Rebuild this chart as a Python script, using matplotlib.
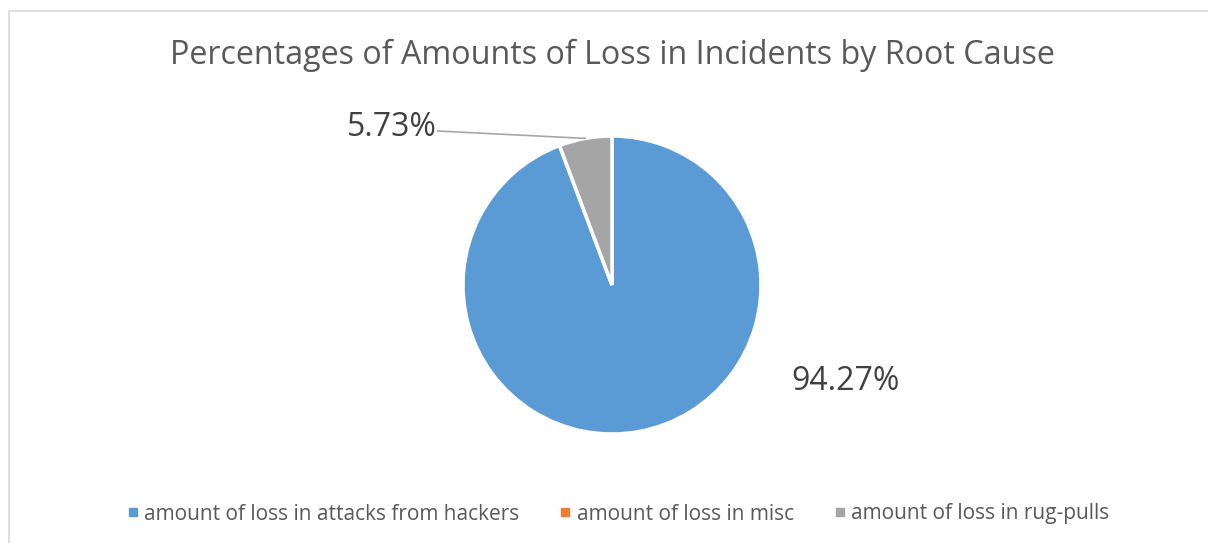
import matplotlib
matplotlib.use("Agg")
import matplotlib.pyplot as plt
from matplotlib.patches import Rectangle
from matplotlib.lines import Line2D
import numpy as np

categories = ["amount of loss in attacks from hackers", "amount of loss in misc", "amount of loss in rug-pulls"]
values = [94.27, 0.0, 5.73]
labels = ["94.27%", "", "5.73%"]
colors = ["#5B9BD5", "#ED7D31", "#A5A5A5"]
title = "Percentages of Amounts of Loss in Incidents by Root Cause"

plt.rcParams['font.family'] = ['Open Sans', 'DejaVu Sans']

W, H = 1208, 543
fig = plt.figure(figsize=(W / 100, H / 100), dpi=100)
ax = fig.add_axes([0, 0, 1, 1])

cx, cy, r = 612, H - 285, 149
wedges, _ = ax.pie(values, colors=colors, startangle=90, counterclock=False,
                   center=(cx, cy), radius=r, frame=True,
                   wedgeprops=dict(edgecolor='white', linewidth=2.5))
ax.set_xlim(0, W)
ax.set_ylim(0, H)
ax.set_aspect('equal')
ax.axis('off')

# border
fig.add_artist(Rectangle((8.5, -5), W + 10, H - 10.5 + 5, transform=None,
                         fill=False, edgecolor='#D9D9D9', linewidth=1.2))

fig.text(612 / W, 1 - 55 / H, title, ha='center', va='center',
         fontsize=23.2, color='#595959')

# data labels
lab_color = '#404040'
ax.text(846, H - 382, labels[0], ha='center', va='center', fontsize=23, color=lab_color)
w = wedges[2]
mid = np.deg2rad((w.theta1 + w.theta2) / 2)
px, py = cx + r * np.cos(mid), cy + r * np.sin(mid)
ax.text(392, H - 127, labels[2], ha='center', va='center', fontsize=23, color=lab_color)
ax.plot([438, px], [H - 131, py], color='#A6A6A6', linewidth=1.2)

handles = [Line2D([], [], marker='s', linestyle='none', markersize=6,
                  markerfacecolor=c, markeredgecolor=c) for c in colors]
fig.legend(handles, categories, loc='center', bbox_to_anchor=(618 / W, 1 - 514 / H),
           ncol=3, frameon=False, fontsize=15, labelcolor='#595959',
           handletextpad=0.25, columnspacing=1.9, handlelength=0.6)

fig.savefig("out.png", dpi=100)
